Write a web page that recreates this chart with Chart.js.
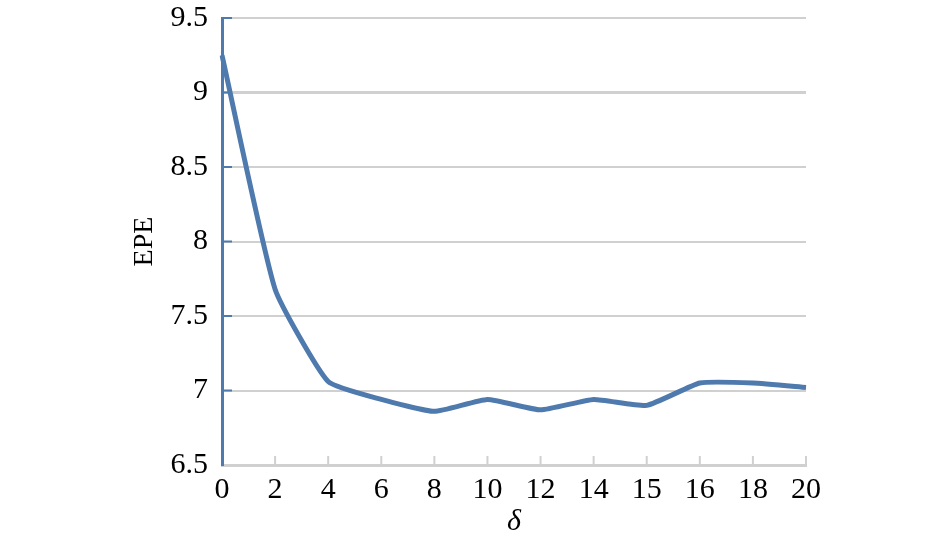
<!DOCTYPE html>
<html>
<head>
  <meta charset="utf-8">
  <title>EPE vs delta</title>
  <script src="https://cdn.jsdelivr.net/npm/chart.js@4.4.0/dist/chart.umd.min.js"></script>
  <style>
    html,body{margin:0;padding:0;background:#fff;}
    #wrap{width:945px;height:548px;position:relative;}
  </style>
</head>
<body>
<div id="wrap"><canvas id="epeChart"></canvas></div>
<script>
// data
const deltaLabels = ['0','2','4','6','8','10','12','14','15','16','18','20'];
const epeValues   = [9.25,7.68,7.06,6.94,6.86,6.94,6.87,6.94,6.90,7.05,7.05,7.02];
const yTicks      = [6.5,7,7.5,8,8.5,9,9.5];

const blue = '#4f7aae';
const grey = '#d0d0d0';
const serif = '"Liberation Serif", "Times New Roman", serif';

// inward tick stubs like the original (blue on y, grey on x)
const innerTicks = {
  id:'innerTicks',
  afterDatasetsDraw(chart){
    const {ctx, chartArea:a, scales:{x, y}} = chart;
    ctx.save();
    ctx.lineWidth = 2;
    ctx.strokeStyle = blue;
    yTicks.forEach(v => {
      if (v === 6.5) return;
      const py = y.getPixelForValue(v);
      ctx.beginPath(); ctx.moveTo(a.left, py); ctx.lineTo(a.left + 10, py); ctx.stroke();
    });
    ctx.strokeStyle = grey;
    deltaLabels.forEach((l, i) => {
      if (i === 0) return;
      const px = x.getPixelForValue(i);
      ctx.beginPath(); ctx.moveTo(px, a.bottom); ctx.lineTo(px, a.bottom - 9); ctx.stroke();
    });
    ctx.restore();
  }
};

new Chart(document.getElementById('epeChart'), {
  type:'line',
  data:{
    labels:deltaLabels,
    datasets:[{
      data:epeValues,
      borderColor:blue,
      borderWidth:5,
      pointRadius:0,
      tension:0.15,
      fill:false
    }]
  },
  options:{
    responsive:true,
    maintainAspectRatio:false,
    animation:false,
    layout:{padding:{left:128, right:139, top:18, bottom:0}},
    plugins:{legend:{display:false}, tooltip:{enabled:false}},
    scales:{
      x:{
        type:'category',
        offset:false,
        grid:{display:true, drawOnChartArea:false, drawTicks:false},
        border:{color:grey, width:3},
        ticks:{color:'#000', font:{family:serif, size:30}, padding:7, maxRotation:0, autoSkip:false},
        title:{display:true, text:'δ', color:'#000', font:{family:serif, size:30, style:'italic'}, padding:{top:0, bottom:8}},
        afterFit(s){ s.height = 83; s.paddingLeft = 0; s.paddingRight = 0; }
      },
      y:{
        min:6.5, max:9.5,
        afterBuildTicks(s){ s.ticks = yTicks.map(v => ({value:v})); },
        grid:{color:grey, lineWidth:(c)=> c.tick && c.tick.value === 9 ? 3 : 2, drawTicks:false},
        border:{color:blue, width:3},
        ticks:{color:'#000', font:{family:serif, size:30}, padding:14, callback:(v)=> String(v)},
        title:{display:true, text:'EPE', color:'#000', font:{family:serif, size:28}, padding:{top:0, bottom:0}},
        afterFit(s){ s.width = 94; s.paddingTop = 0; s.paddingBottom = 0; }
      }
    }
  },
  plugins:[innerTicks]
});
</script>
</body>
</html>
